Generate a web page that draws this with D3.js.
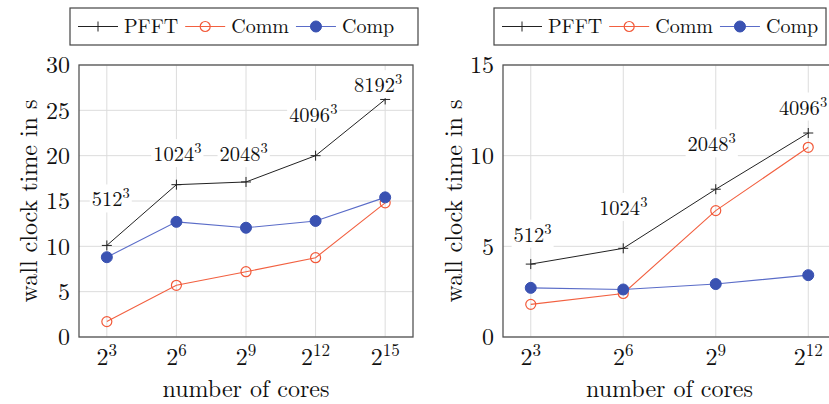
<!DOCTYPE html>
<html>
<head>
<meta charset="utf-8">
<script src="https://cdn.jsdelivr.net/npm/d3@7"></script>
<style>
  html, body { margin: 0; padding: 0; background: #fff; }
</style>
</head>
<body>
<div id="container"></div>
<script>
// exponents of 2 for the number of cores
const coresLeft = [3, 6, 9, 12, 15];
const pfftLeft = [10.1, 16.8, 17.1, 20.0, 26.2];
const commLeft = [1.7, 5.7, 7.2, 8.75, 14.8];
const compLeft = [8.8, 12.7, 12.05, 12.8, 15.4];
const sizesLeft = ["512", "1024", "2048", "4096", "8192"];
// label anchors in data units (exponent, value)
const sizeLabelExpLeft = [3.17, 6.04, 8.9, 11.9, 14.7];
const sizeLabelValLeft = [14.4, 19.4, 19.4, 23.7, 27.0];

const coresRight = [3, 6, 9, 12];
const pfftRight = [4.02, 4.89, 8.15, 11.25];
const commRight = [1.8, 2.4, 6.97, 10.46];
const compRight = [2.71, 2.62, 2.92, 3.41];
const sizesRight = ["512", "1024", "2048", "4096"];
const sizeLabelExpRight = [3.06, 6.0, 8.87, 11.83];
const sizeLabelValRight = [5.26, 6.73, 10.24, 12.27];

const seriesNames = ["PFFT", "Comm", "Comp"];

const width = 829, height = 404;
const FONT = "'Latin Modern Roman', 'Liberation Serif', serif";
const colors = { PFFT: "#222222", Comm: "#f25a3a", Comp: "#3a52b2" };
const lineColors = { PFFT: "#222222", Comm: "#f26040", Comp: "#5a6cc8" };

const svg = d3.select("#container").append("svg")
  .attr("width", width).attr("height", height)
  .style("display", "block");

function txt(sel, size) {
  return sel.append("text").style("font-family", FONT).attr("font-size", size).attr("fill", "#111");
}

function supText(sel, base, sup, supSize, rise) {
  sel.append("tspan").text(base);
  sel.append("tspan").attr("font-size", supSize).attr("dy", -rise).text(sup);
}

function drawMarker(g, name, x, y) {
  if (name === "PFFT") {
    g.append("path")
      .attr("d", `M${x - 5},${y}H${x + 5}M${x},${y - 5}V${y + 5}`)
      .attr("stroke", colors.PFFT).attr("stroke-width", 1);
  } else if (name === "Comm") {
    g.append("circle").attr("cx", x).attr("cy", y).attr("r", 5)
      .attr("fill", "none").attr("stroke", colors.Comm).attr("stroke-width", 1.2);
  } else {
    g.append("circle").attr("cx", x).attr("cy", y).attr("r", 5.5)
      .attr("fill", colors.Comp).attr("stroke", colors.Comp);
  }
}

function drawPanel(cfg) {
  const g = svg.append("g");
  const x = d3.scaleLog().base(2)
    .domain([2 ** cfg.expDomain[0], 2 ** cfg.expDomain[1]])
    .range([cfg.left, cfg.right]);
  const y = d3.scaleLinear().domain([0, cfg.yMax]).range([cfg.bottom, cfg.top]);

  // grid
  g.selectAll("line.gx").data(cfg.cores).enter().append("line")
    .attr("x1", d => x(2 ** d)).attr("x2", d => x(2 ** d))
    .attr("y1", cfg.top).attr("y2", cfg.bottom)
    .attr("stroke", "#dcdcdc").attr("stroke-width", 1);
  g.selectAll("line.gy").data(cfg.yTicks).enter().append("line")
    .attr("x1", cfg.left).attr("x2", cfg.right)
    .attr("y1", d => y(d)).attr("y2", d => y(d))
    .attr("stroke", "#dcdcdc").attr("stroke-width", 1);

  // y axis
  const yAxis = g.append("g").attr("transform", `translate(${cfg.left},0)`)
    .call(d3.axisLeft(y).tickValues(cfg.yTicks).tickSize(0).tickPadding(9));
  yAxis.select(".domain").remove();
  yAxis.selectAll("text").attr("font-size", 24).attr("fill", "#111")
    .style("font-family", FONT);

  // x axis
  const xAxis = g.append("g").attr("transform", `translate(0,${cfg.bottom})`)
    .call(d3.axisBottom(x).tickValues(cfg.cores.map(d => 2 ** d)).tickSize(0).tickFormat(""));
  xAxis.select(".domain").remove();
  xAxis.selectAll(".tick text").remove();
  cfg.cores.forEach(e => {
    const t = txt(g, 24).attr("x", x(2 ** e)).attr("y", 365).attr("text-anchor", "middle");
    supText(t, "2", String(e), 17, 9);
  });

  // frame
  g.append("rect")
    .attr("x", cfg.left).attr("y", cfg.top)
    .attr("width", cfg.right - cfg.left).attr("height", cfg.bottom - cfg.top)
    .attr("fill", "none").attr("stroke", "#555").attr("stroke-width", 1.3);

  // series
  seriesNames.forEach(name => {
    const vals = cfg.series[name];
    const line = d3.line().x((d, i) => x(2 ** cfg.cores[i])).y(d => y(d));
    g.append("path").datum(vals).attr("d", line)
      .attr("fill", "none").attr("stroke", lineColors[name])
      .attr("stroke-width", name === "PFFT" ? 1 : 1.1);
    vals.forEach((v, i) => drawMarker(g, name, x(2 ** cfg.cores[i]), y(v)));
  });

  // size labels
  cfg.sizes.forEach((s, i) => {
    const lg = g.append("g");
    const t = txt(lg, 20.5)
      .attr("x", x(2 ** cfg.labelExp[i])).attr("y", y(cfg.labelVal[i]))
      .attr("text-anchor", "middle");
    supText(t, s, "3", 14.5, 8);
    const bb = t.node().getBBox();
    lg.insert("rect", "text")
      .attr("x", bb.x - 2).attr("y", bb.y + 2)
      .attr("width", bb.width + 4).attr("height", bb.height - 2)
      .attr("fill", "#fff");
  });

  // axis titles
  txt(g, 24)
    .attr("transform", `translate(${cfg.ylabelX},${(cfg.top + cfg.bottom) / 2}) rotate(-90)`)
    .attr("text-anchor", "middle")
    .text("wall clock time in s");
  txt(g, 24)
    .attr("x", (cfg.left + cfg.right) / 2).attr("y", 397)
    .attr("text-anchor", "middle")
    .text("number of cores");

  // legend
  const leg = g.append("g");
  leg.append("rect")
    .attr("x", cfg.legend[0]).attr("y", 8)
    .attr("width", cfg.legend[1] - cfg.legend[0]).attr("height", 37)
    .attr("fill", "#fff").attr("stroke", "#444").attr("stroke-width", 1.2);
  let cx = cfg.legend[0] + 8;
  seriesNames.forEach(name => {
    leg.append("line").attr("x1", cx).attr("x2", cx + 40).attr("y1", 26.5).attr("y2", 26.5)
      .attr("stroke", lineColors[name]).attr("stroke-width", 1);
    drawMarker(leg, name, cx + 20, 26.5);
    const t = txt(leg, 20).attr("x", cx + 46).attr("y", 33).text(name);
    cx += 46 + t.node().getComputedTextLength() + 7;
  });
}

drawPanel({
  left: 79, right: 413, top: 65, bottom: 337,
  expDomain: [1.8, 16.2], yMax: 30, yTicks: [0, 5, 10, 15, 20, 25, 30],
  cores: coresLeft,
  series: { PFFT: pfftLeft, Comm: commLeft, Comp: compLeft },
  sizes: sizesLeft, labelExp: sizeLabelExpLeft, labelVal: sizeLabelValLeft,
  ylabelX: 37, legend: [70, 418]
});

drawPanel({
  left: 503, right: 836, top: 65, bottom: 337,
  expDomain: [2.1, 12.9], yMax: 15, yTicks: [0, 5, 10, 15],
  cores: coresRight,
  series: { PFFT: pfftRight, Comm: commRight, Comp: compRight },
  sizes: sizesRight, labelExp: sizeLabelExpRight, labelVal: sizeLabelValRight,
  ylabelX: 462, legend: [494, 826]
});
</script>
</body>
</html>
